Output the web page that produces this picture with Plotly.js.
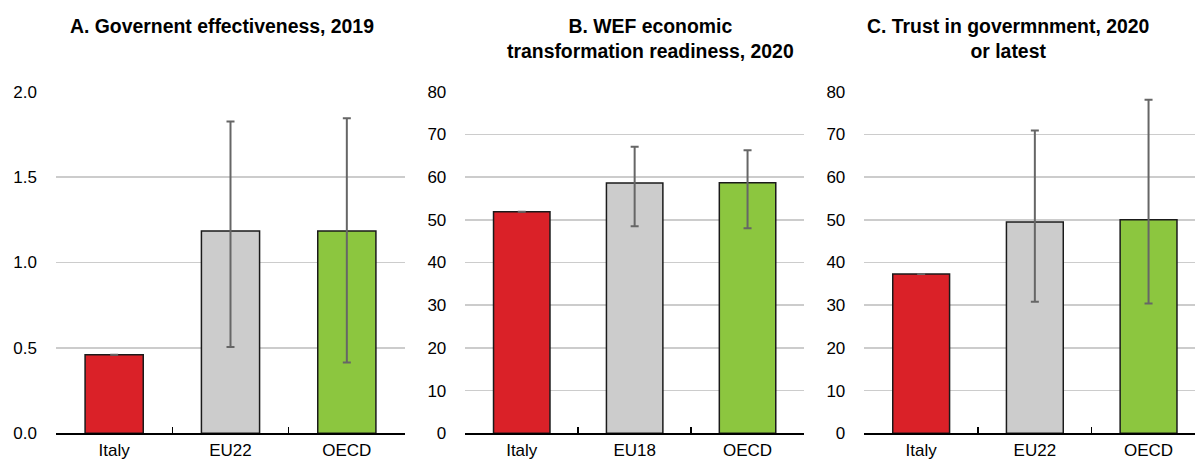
<!DOCTYPE html>
<html>
<head>
<meta charset="utf-8">
<script src="https://cdn.plot.ly/plotly-3.0.1.min.js"></script>
<style>
  html, body { margin: 0; padding: 0; background: #ffffff; }
  #chart { width: 1195px; height: 459px; }
</style>
</head>
<body>
<div id="chart"></div>
<script>
// Panel A: Government effectiveness, 2019
const catsA = ['Italy', 'EU22', 'OECD'];
const valsA = [0.46, 1.185, 1.185];
const lowA  = [0.46, 0.505, 0.415];
const highA = [0.46, 1.825, 1.845];

// Panel B: WEF economic transformation readiness, 2020
const catsB = ['Italy', 'EU18', 'OECD'];
const valsB = [51.9, 58.6, 58.7];
const lowB  = [51.9, 48.5, 48.0];
const highB = [51.9, 67.1, 66.3];

// Panel C: Trust in government, 2020 or latest
const catsC = ['Italy', 'EU22', 'OECD'];
const valsC = [37.3, 49.5, 50.0];
const lowC  = [37.3, 30.8, 30.4];
const highC = [37.3, 70.9, 78.1];

const barColors = ['#DA2128', '#CCCCCC', '#8CC63F'];

function panel(cats, vals, low, high, xa, ya) {
  return {
    type: 'bar',
    x: cats,
    y: vals,
    xaxis: xa,
    yaxis: ya,
    width: 0.5,
    marker: { color: barColors, line: { color: '#1a1a1a', width: 1.5 } },
    error_y: {
      type: 'data',
      symmetric: false,
      array: high.map((h, i) => h - vals[i]),
      arrayminus: low.map((l, i) => vals[i] - l),
      color: '#666666',
      thickness: 2,
      width: 4
    },
    hoverinfo: 'x+y',
    showlegend: false
  };
}

const data = [
  panel(catsA, valsA, lowA, highA, 'x', 'y'),
  panel(catsB, valsB, lowB, highB, 'x2', 'y2'),
  panel(catsC, valsC, lowC, highC, 'x3', 'y3')
];

const font = { family: 'Liberation Sans, Arial, sans-serif', size: 17, color: '#000000' };
const yDomain = [(459 - 433.3) / 459, (459 - 91.7) / 459];

function xAxis(domain, range) {
  return {
    domain: domain,
    range: range,
    type: 'category',
    showline: true,
    linecolor: '#000000',
    linewidth: 2,
    ticks: 'inside',
    ticklen: 6,
    tickwidth: 1.5,
    tickcolor: '#000000',
    tickson: 'boundaries',
    showgrid: false,
    zeroline: false,
    ticklabelstandoff: 0,
    tickfont: font,
    fixedrange: true
  };
}

function yAxis(range, dtick, fmt, anchor) {
  return {
    domain: yDomain,
    range: range,
    anchor: anchor,
    dtick: dtick,
    tick0: 0,
    tickformat: fmt,
    showline: false,
    ticks: '',
    showgrid: true,
    gridcolor: '#CCCCCC',
    gridwidth: 1.5,
    zeroline: false,
    ticklabelstandoff: 18,
    tickfont: font,
    fixedrange: true
  };
}

const titleFont = { family: 'Liberation Sans, Arial, sans-serif', size: 19.4, color: '#000000', weight: 'bold' };
function title(text, xPix) {
  return {
    text: text,
    xref: 'paper', yref: 'paper',
    x: xPix / 1195, y: (459 - 12.5) / 459,
    xanchor: 'center', yanchor: 'top',
    showarrow: false,
    font: titleFont,
    align: 'center'
  };
}

const layout = {
  width: 1195,
  height: 459,
  margin: { l: 0, r: 0, t: 0, b: 0 },
  paper_bgcolor: '#ffffff',
  plot_bgcolor: '#ffffff',
  font: font,
  xaxis:  xAxis([56 / 1195, 405 / 1195], [-0.5, 2.5]),
  xaxis2: xAxis([465.3 / 1195, 804 / 1195], [-0.5, 2.5]),
  xaxis3: xAxis([864.3 / 1195, 1], [-0.5, 2.4085]),
  yaxis:  yAxis([0, 2.0], 0.5, '.1f', 'x'),
  yaxis2: yAxis([0, 80], 10, 'd', 'x2'),
  yaxis3: yAxis([0, 80], 10, 'd', 'x3'),
  annotations: [
    title('A. Governent effectiveness, 2019', 221.5),
    title('B. WEF economic<br>transformation readiness, 2020', 650),
    title('C. Trust in govermnment, 2020<br>or latest', 1008)
  ]
};

Plotly.newPlot('chart', data, layout, { staticPlot: true, displayModeBar: false });
</script>
</body>
</html>
